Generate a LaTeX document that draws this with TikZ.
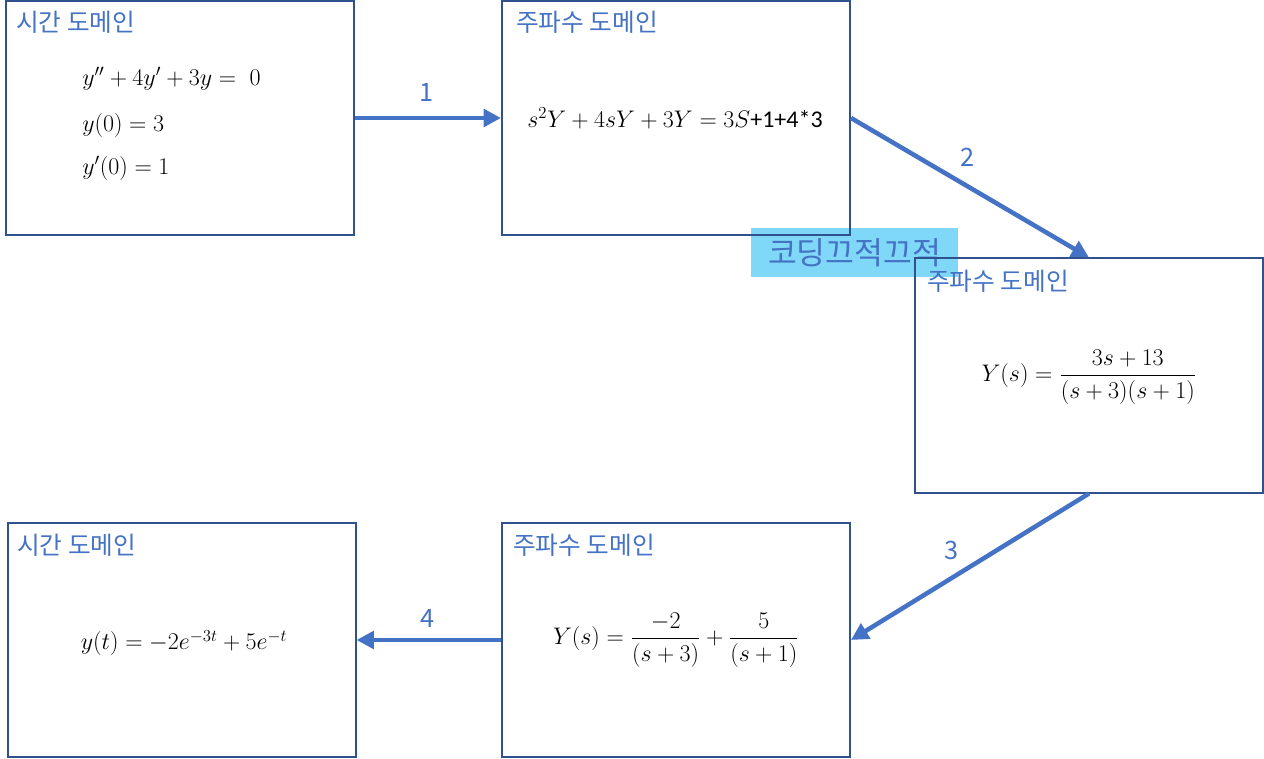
\RequirePackage{fix-cm}
\documentclass[tikz,border=0pt]{standalone}
\usepackage{amsmath}
\usepackage{amssymb}
\usepackage{fontspec}
\usepackage{tikz}
\usetikzlibrary{arrows.meta}
\newfontfamily\krfont{Noto Sans CJK KR}
\newfontfamily\calfont{Carlito}
\definecolor{boxblue}{HTML}{2F528F}
\definecolor{txtblue}{HTML}{4472C4}
\definecolor{memofill}{HTML}{80D8F8}
\tikzset{
  dombox/.style={draw=boxblue, line width=1.5pt, minimum width=261pt, minimum height=175.5pt, inner sep=0pt},
  domtitle/.style={anchor=west, inner sep=0pt, text=txtblue, font=\krfont\fontsize{18.5}{21}\selectfont},
  eqn/.style={inner sep=0pt, font=\fontsize{18}{21}\selectfont},
  flow/.style={draw=txtblue, line width=3.4pt, -{Triangle[length=13pt,width=13pt]}},
  steplabel/.style={text=txtblue, inner sep=0pt, font=\krfont\fontsize{19}{22}\selectfont}
}

\begin{document}
\begin{tikzpicture}[x=0.75pt, y=-0.75pt]
        \useasboundingbox (0,0) rectangle (1264,759);
        \node[fill=memofill, minimum width=155.25pt, minimum height=36.75pt, inner sep=0pt, text=txtblue, font=\krfont\fontsize{23.5}{26}\selectfont] (memo) at (854.5,252.5) {코딩끄적끄적};
        \node[dombox] (T1) at (179.5,118) {};
        \node[dombox] (F1) at (676,118) {};
        \node[dombox] (F2) at (1089,375.5) {};
        \node[dombox] (F3) at (676,640) {};
        \node[dombox] (T2) at (181.5,640) {};
        \node[domtitle] (T1t) at (16,22) {시간 도메인};
        \node[domtitle] (F1t) at (516,22) {주파수 도메인};
        \node[domtitle] (F2t) at (927,281) {주파수 도메인};
        \node[domtitle] (F3t) at (513,545) {주파수 도메인};
        \node[domtitle] (T2t) at (17,545) {시간 도메인};
        \node[eqn, anchor=west] (E1) at (82,79) {$y''+4y'+3y=\;0$};
        \node[eqn, anchor=west] (E2) at (82,126) {$y(0)=3$};
        \node[eqn, anchor=west] (E3) at (82,168) {$y'(0)=1$};
        \node[eqn] (E4) at (675,118) {$s^2Y+4sY+3Y=3S${\calfont\fontsize{18}{20}\selectfont+1+4*3}};
        \node[eqn] (E5) at (1089,377) {$Y(s)=\dfrac{3s+13}{(s+3)(s+1)}$};
        \node[eqn] (E6) at (676,640) {$Y(s)=\dfrac{-2}{(s+3)}+\dfrac{5}{(s+1)}$};
        \node[eqn] (E7) at (184,643) {$y(t)=-2e^{-3t}+5e^{-t}$};
        \draw[flow] (T1) -- (F1);
        \draw[flow] (F1.east) -- (F2.north);
        \draw[flow] (F2.south) -- (F3.east);
        \draw[flow] (F3) -- (T2);
        \node[steplabel] (S1) at (427,92) {1};
        \node[steplabel] (S2) at (968,157) {2};
        \node[steplabel] (S3) at (952,550) {3};
        \node[steplabel] (S4) at (428,618) {4};
    \end{tikzpicture}
\end{document}
